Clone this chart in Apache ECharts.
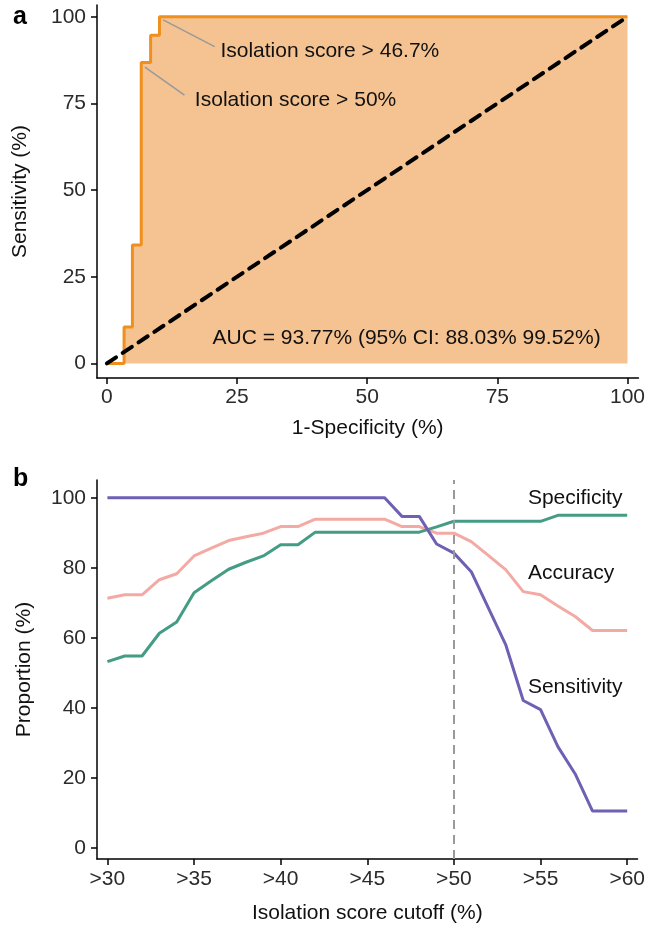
<!DOCTYPE html>
<html>
<head>
<meta charset="utf-8">
<script src="https://cdn.jsdelivr.net/npm/echarts@6/dist/echarts.min.js"></script>
<style>
html,body{margin:0;padding:0;background:#ffffff;}
#c{width:648px;height:930px;}
</style>
</head>
<body>
<div id="c"></div>
<script>
// ---- Panel a: ROC curve ----
const rocFpr = [0, 3.3, 3.3, 4.9, 4.9, 6.6, 6.6, 8.4, 8.4, 10.1, 10.1, 100];
const rocTpr = [0, 0, 10.5, 10.5, 34.2, 34.2, 86.8, 86.8, 94.7, 94.7, 100, 100];
const diagX = [0, 100];
const diagY = [0, 100];
const rocTicks = [0, 25, 50, 75, 100];
const aucText = 'AUC = 93.77% (95% CI: 88.03% 99.52%)';
const annoLabels = ['Isolation score > 46.7%', 'Isolation score > 50%'];
const annoFrom = [[10.8, 99.1], [7.3, 85.5]];
const annoTo = [[20.7, 91.4], [14.9, 77.4]];
const annoTextPos = [[21.8, 90.0], [16.9, 76.0]];
const aucPos = [20.3, 7.3];

// ---- Panel b: metrics vs cutoff ----
const cutoffs = [30,31,32,33,34,35,36,37,38,39,40,41,42,43,44,45,46,47,48,49,50,51,52,53,54,55,56,57,58,59,60];
const sensitivity = [100,100,100,100,100,100,100,100,100,100,100,100,100,100,100,100,100,94.7,94.7,86.8,84.2,78.9,68.4,57.9,42.1,39.5,28.9,21.1,10.5,10.5,10.5];
const specificity = [53.2,54.8,54.8,61.3,64.5,72.9,76.3,79.6,81.6,83.4,86.6,86.6,90.2,90.2,90.2,90.2,90.2,90.2,90.2,91.7,93.3,93.3,93.3,93.3,93.3,93.3,95.0,95.0,95.0,95.0,95.0];
const accuracy = [71.3,72.3,72.3,76.6,78.3,83.4,85.6,87.8,88.9,89.9,91.8,91.8,93.9,93.9,93.9,93.9,93.9,91.8,91.8,89.9,89.9,87.5,83.5,79.4,73.2,72.3,69.1,66.1,62.1,62.1,62.1];
const cutTicks = [30, 35, 40, 45, 50, 55, 60];
const propTicks = [0, 20, 40, 60, 80, 100];
const chosenCutoff = 50;
const seriesNames = ['Specificity', 'Accuracy', 'Sensitivity'];
const seriesLabelPos = [[54.27, 100], [54.27, 78.6], [54.27, 46]];

const FONT = '"Liberation Sans", Arial, sans-serif';
const TXT = '#111';
const zip = (a, b) => a.map((v, i) => [v, b[i]]);

const chart = echarts.init(document.getElementById('c'), null, {renderer: 'canvas'});

const axisCommon = {
  axisLine: {show: true, onZero: false, lineStyle: {color: '#000', width: 1.5}},
  axisTick: {show: true, length: 6, lineStyle: {color: '#000', width: 1.5}},
  splitLine: {show: false},
  axisLabel: {color: '#2b2b2b', fontSize: 21, fontFamily: FONT},
  nameTextStyle: {color: TXT, fontSize: 21, fontFamily: FONT},
  nameLocation: 'middle'
};

function textSeries(xi, yi, items) {
  return {
    type: 'scatter', xAxisIndex: xi, yAxisIndex: yi, symbolSize: 0, silent: true, z: 10,
    itemStyle: {opacity: 1},
    data: items.map(it => ({value: it.pos, label: {show: true, formatter: it.text, position: 'right', distance: 0,
      color: TXT, fontSize: 21, fontFamily: FONT, verticalAlign: 'middle', opacity: 1}}))
  };
}

const option = {
  animation: false,
  backgroundColor: '#ffffff',
  title: [
    {text: 'a', left: 8, top: 0, textStyle: {fontSize: 25, fontWeight: 'bold', color: '#000', fontFamily: FONT}},
    {text: 'b', left: 8, top: 462, textStyle: {fontSize: 25, fontWeight: 'bold', color: '#000', fontFamily: FONT}}
  ],
  grid: [
    {left: 97, top: 5, width: 543, height: 373},
    {left: 97, top: 480, width: 543, height: 379}
  ],
  xAxis: [
    Object.assign({}, axisCommon, {
      type: 'value', gridIndex: 0, min: -1.9, max: 102.1,
      name: '1-Specificity (%)', nameGap: 40,
      axisTick: Object.assign({}, axisCommon.axisTick, {customValues: rocTicks}),
      axisLabel: Object.assign({}, axisCommon.axisLabel, {customValues: rocTicks, margin: 9})
    }),
    Object.assign({}, axisCommon, {
      type: 'value', gridIndex: 1, min: 29.4, max: 60.6,
      name: 'Isolation score cutoff (%)', nameGap: 44,
      axisTick: Object.assign({}, axisCommon.axisTick, {customValues: cutTicks}),
      axisLabel: Object.assign({}, axisCommon.axisLabel, {customValues: cutTicks, margin: 10, formatter: v => '>' + v})
    })
  ],
  yAxis: [
    Object.assign({}, axisCommon, {
      type: 'value', gridIndex: 0, min: -4.2, max: 103.4,
      name: 'Sensitivity (%)', nameGap: 66,
      axisTick: Object.assign({}, axisCommon.axisTick, {customValues: rocTicks}),
      axisLabel: Object.assign({}, axisCommon.axisLabel, {customValues: rocTicks, margin: 11})
    }),
    Object.assign({}, axisCommon, {
      type: 'value', gridIndex: 1, min: -3.2, max: 105.1,
      name: 'Proportion (%)', nameGap: 62,
      axisTick: Object.assign({}, axisCommon.axisTick, {customValues: propTicks}),
      axisLabel: Object.assign({}, axisCommon.axisLabel, {customValues: propTicks, margin: 11})
    })
  ],
  series: [
    {
      type: 'line', xAxisIndex: 0, yAxisIndex: 0, data: zip(rocFpr, rocTpr), symbol: 'none',
      lineStyle: {color: '#ef8f1d', width: 3}, areaStyle: {color: '#f5c391', opacity: 1, origin: 0}, z: 2
    },
    {
      type: 'line', xAxisIndex: 0, yAxisIndex: 0, data: zip(diagX, diagY), symbol: 'none',
      lineStyle: {color: '#000', width: 4, type: [11, 8], cap: 'round'}, z: 4
    },
    {
      type: 'lines', coordinateSystem: 'cartesian2d', xAxisIndex: 0, yAxisIndex: 0, silent: true, z: 5,
      lineStyle: {color: '#999', width: 1.5, opacity: 1},
      data: annoFrom.map((f, i) => ({coords: [f, annoTo[i]]}))
    },
    textSeries(0, 0, [
      {pos: annoTextPos[0], text: annoLabels[0]},
      {pos: annoTextPos[1], text: annoLabels[1]},
      {pos: aucPos, text: aucText}
    ]),
    {
      name: 'Specificity', type: 'line', xAxisIndex: 1, yAxisIndex: 1, data: zip(cutoffs, specificity), symbol: 'none',
      lineStyle: {color: '#449c84', width: 3}, z: 3
    },
    {
      name: 'Accuracy', type: 'line', xAxisIndex: 1, yAxisIndex: 1, data: zip(cutoffs, accuracy), symbol: 'none',
      lineStyle: {color: '#f4aaa4', width: 3}, z: 2
    },
    {
      name: 'Sensitivity', type: 'line', xAxisIndex: 1, yAxisIndex: 1, data: zip(cutoffs, sensitivity), symbol: 'none',
      lineStyle: {color: '#6f60b4', width: 3}, z: 4,
      markLine: {
        silent: true, symbol: 'none', label: {show: false},
        lineStyle: {color: '#9a9a9a', width: 2, type: [9, 6]},
        data: [{xAxis: chosenCutoff}]
      }
    },
    textSeries(1, 1, seriesNames.map((n, i) => ({pos: seriesLabelPos[i], text: n})))
  ]
};
chart.setOption(option);
</script>
</body>
</html>
